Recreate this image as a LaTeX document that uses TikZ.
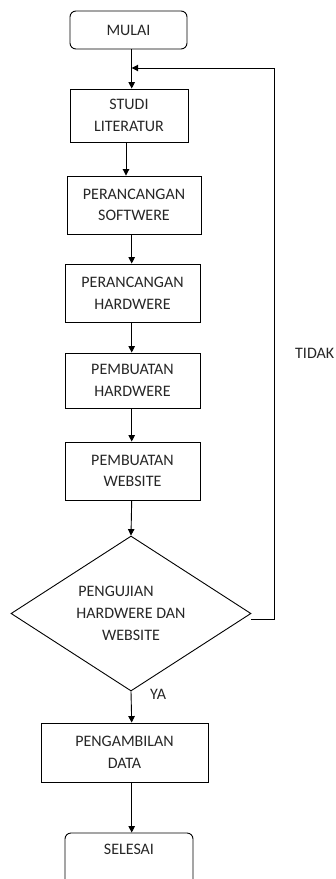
\documentclass[tikz,border=0pt]{standalone}
\usepackage{fontspec}
\setmainfont{Carlito}
\usetikzlibrary{shapes.geometric,arrows.meta}
\begin{document}
\begin{tikzpicture}[x=1pt,y=-1pt,
  every node/.style={font=\fontsize{16}{21.7}\selectfont, text=black!85},
  box/.style={draw, line width=0.9pt, align=center, inner sep=0pt},
  term/.style={box, rounded corners=6pt},
  decide/.style={draw, line width=0.9pt, shape=diamond, align=center, inner sep=0pt, aspect=1.55},
  arr/.style={line width=0.9pt, -{Triangle[width=6.5pt,length=6.5pt]}},
  lbl/.style={anchor=west, inner sep=0pt}]
\useasboundingbox (0,0) rectangle (336,879);
\coordinate (axis) at (131.7,0);
\node[term, minimum width=117pt, minimum height=38pt] (mulai) at (128.5,30) {MULAI};
\node[box, minimum width=118pt, minimum height=53pt] (studi) at (129,115.5) {STUDI\\LITERATUR};
\node[box, minimum width=134pt, minimum height=58pt] (soft) at (134,205) {PERANCANGAN\\SOFTWERE};
\node[box, minimum width=135pt, minimum height=58pt] (perhw) at (132.5,293) {PERANCANGAN\\HARDWERE};
\node[box, minimum width=135pt, minimum height=55pt] (pemhw) at (132.5,380.5) {PEMBUATAN\\HARDWERE};
\node[box, minimum width=135pt, minimum height=58pt] (pemweb) at (132.5,471) {PEMBUATAN\\WEBSITE};
\node[decide, minimum width=240pt, minimum height=155pt] (uji) at (131,613.5) {PENGUJIAN\hspace*{30pt}\\HARDWERE DAN\\WEBSITE};
\node[box, minimum width=167pt, minimum height=59pt] (ambil) at (124.5,752.5) {PENGAMBILAN\\DATA};
\node[term, minimum width=128pt, minimum height=60pt] (selesai) at (129,863) {SELESAI\\\strut};
\node[lbl] (tidak) at (295,353) {TIDAK};
\node[lbl] (ya) at (150,694) {YA};
\coordinate (join) at (131.7,68);
\coordinate (rt) at (274,68);
\draw[arr] (mulai.south -| axis) -- (studi.north -| axis);
\draw[arr] ([xshift=-3pt]studi.south) -- ([xshift=-3pt]studi.south |- soft.north);
\draw[arr] (soft.south -| axis) -- (perhw.north -| axis);
\draw[arr] (perhw.south -| axis) -- (pemhw.north -| axis);
\draw[arr] (pemhw.south -| axis) -- (pemweb.north -| axis);
\draw[arr] (pemweb.south -| axis) -- (uji.north);
\draw[arr] (uji.south) -- (ambil.north -| axis);
\draw[arr] (ambil.south -| axis) -- (selesai.north -| axis);
\draw[arr] ([yshift=-6pt]uji.east) -| (rt) -- (join);
\end{tikzpicture}
\end{document}
